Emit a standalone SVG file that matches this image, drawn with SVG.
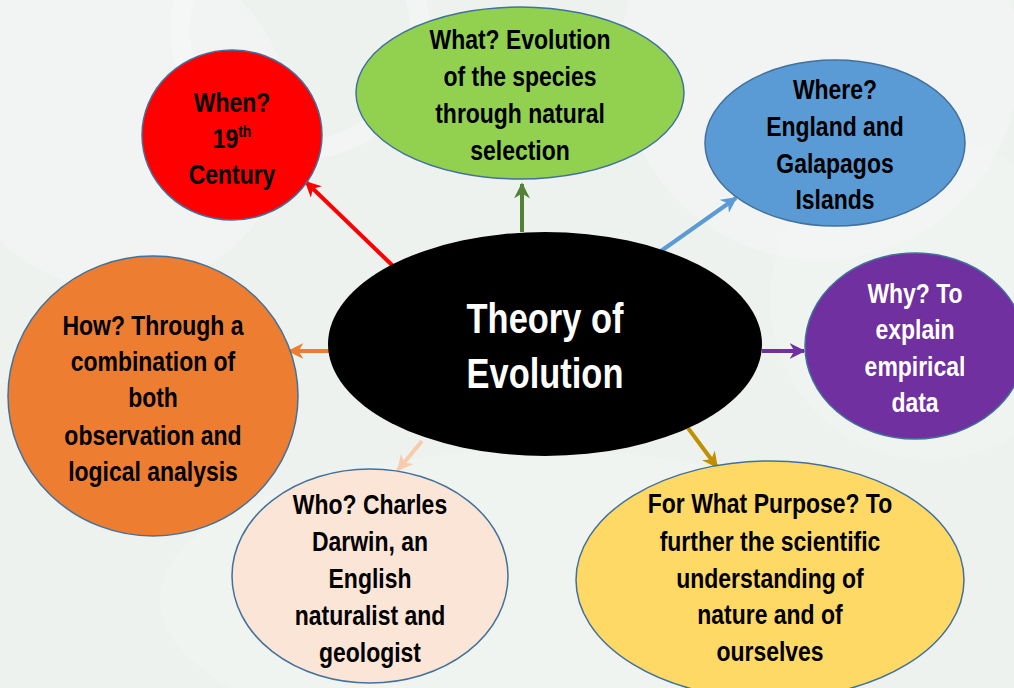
<svg xmlns="http://www.w3.org/2000/svg" width="1014" height="688" viewBox="0 0 1014 688">
<style>
.t{font-family:"Liberation Sans",Arial,sans-serif;font-weight:bold;font-size:28px;text-anchor:middle;fill:#000}
.w{fill:#fff}
.big{font-size:42px}
.n{stroke:#41719C;stroke-width:1.5}
.c{fill:none;stroke-width:4}
</style>
<defs>
<marker id="mr" viewBox="0 0 10 10" refX="9" refY="5" markerWidth="4" markerHeight="4" orient="auto" markerUnits="strokeWidth"><path d="M0,0 L10,5 L0,10 L3,5 z" fill="#FF0000"/></marker>
<marker id="mg" viewBox="0 0 10 10" refX="9" refY="5" markerWidth="4" markerHeight="4" orient="auto" markerUnits="strokeWidth"><path d="M0,0 L10,5 L0,10 L3,5 z" fill="#548235"/></marker>
<marker id="mb" viewBox="0 0 10 10" refX="9" refY="5" markerWidth="4" markerHeight="4" orient="auto" markerUnits="strokeWidth"><path d="M0,0 L10,5 L0,10 L3,5 z" fill="#5B9BD5"/></marker>
<marker id="mp" viewBox="0 0 10 10" refX="9" refY="5" markerWidth="4" markerHeight="4" orient="auto" markerUnits="strokeWidth"><path d="M0,0 L10,5 L0,10 L3,5 z" fill="#7030A0"/></marker>
<marker id="my" viewBox="0 0 10 10" refX="9" refY="5" markerWidth="4" markerHeight="4" orient="auto" markerUnits="strokeWidth"><path d="M0,0 L10,5 L0,10 L3,5 z" fill="#BF9000"/></marker>
<marker id="mk" viewBox="0 0 10 10" refX="9" refY="5" markerWidth="4" markerHeight="4" orient="auto" markerUnits="strokeWidth"><path d="M0,0 L10,5 L0,10 L3,5 z" fill="#F8CBAD"/></marker>
<marker id="mo" viewBox="0 0 10 10" refX="9" refY="5" markerWidth="4" markerHeight="4" orient="auto" markerUnits="strokeWidth"><path d="M0,0 L10,5 L0,10 L3,5 z" fill="#ED7D31"/></marker>
</defs>
<g id="background">
<rect width="1014" height="688" fill="#EEF2EF"/>
<circle cx="120" cy="120" r="170" fill="#fff" opacity="0.2"/>
<circle cx="820" cy="60" r="200" fill="#fff" opacity="0.2"/>
<circle cx="930" cy="300" r="160" fill="#fff" opacity="0.15"/>
<ellipse cx="540" cy="600" rx="380" ry="150" fill="#fff" opacity="0.15"/>
<circle cx="300" cy="30" r="120" fill="none" stroke="#fff" stroke-width="20" opacity="0.25"/>
</g>
<g id="connectors">
<line class="c" x1="393" y1="266" x2="306" y2="182" stroke="#FF0000" marker-end="url(#mr)"/>
<line class="c" x1="522" y1="232" x2="522" y2="184" stroke="#548235" marker-end="url(#mg)"/>
<line class="c" x1="661" y1="251" x2="736" y2="198" stroke="#5B9BD5" marker-end="url(#mb)"/>
<line class="c" x1="762" y1="351" x2="804" y2="351" stroke="#7030A0" marker-end="url(#mp)"/>
<line class="c" x1="688" y1="428" x2="717" y2="467" stroke="#BF9000" marker-end="url(#my)"/>
<line class="c" x1="422" y1="441" x2="398" y2="470" stroke="#F8CBAD" marker-end="url(#mk)"/>
<line class="c" x1="330" y1="351" x2="289" y2="351" stroke="#ED7D31" marker-end="url(#mo)"/>
</g>
<g id="center">
<ellipse cx="545" cy="344" rx="217" ry="112" fill="#000"/>
<g transform="translate(545 0) scale(0.82 1)">
<text class="t w big" x="0" y="333">Theory of</text>
<text class="t w big" x="0" y="388">Evolution</text>
</g>
</g>
<g id="when">
<ellipse class="n" cx="232" cy="135" rx="90" ry="85" fill="#FF0000"/>
<g transform="translate(232 0) scale(0.82 1)">
<text class="t" x="0" y="112">When?</text>
<text class="t" x="0" y="148">19<tspan font-size="17" dy="-11">th</tspan></text>
<text class="t" x="0" y="184">Century</text>
</g>
</g>
<g id="what">
<ellipse class="n" cx="520" cy="93" rx="164" ry="86" fill="#92D050"/>
<g transform="translate(520 0) scale(0.82 1)">
<text class="t" x="0" y="49">What? Evolution</text>
<text class="t" x="0" y="86">of the species</text>
<text class="t" x="0" y="123">through natural</text>
<text class="t" x="0" y="160">selection</text>
</g>
</g>
<g id="where">
<ellipse class="n" cx="835" cy="143" rx="130" ry="83" fill="#5B9BD5"/>
<g transform="translate(835 0) scale(0.82 1)">
<text class="t" x="0" y="99">Where?</text>
<text class="t" x="0" y="136">England and</text>
<text class="t" x="0" y="173">Galapagos</text>
<text class="t" x="0" y="209">Islands</text>
</g>
</g>
<g id="why">
<ellipse class="n" cx="915" cy="346" rx="110" ry="93" fill="#7030A0"/>
<g transform="translate(915 0) scale(0.82 1)">
<text class="t w" x="0" y="303">Why? To</text>
<text class="t w" x="0" y="339">explain</text>
<text class="t w" x="0" y="376">empirical</text>
<text class="t w" x="0" y="412">data</text>
</g>
</g>
<g id="how">
<ellipse class="n" cx="153" cy="396" rx="145" ry="140" fill="#ED7D31"/>
<g transform="translate(153 0) scale(0.82 1)">
<text class="t" x="0" y="335">How? Through a</text>
<text class="t" x="0" y="371">combination of</text>
<text class="t" x="0" y="407">both</text>
<text class="t" x="0" y="445">observation and</text>
<text class="t" x="0" y="481">logical analysis</text>
</g>
</g>
<g id="who">
<ellipse class="n" cx="370" cy="576" rx="138" ry="107" fill="#FBE5D6"/>
<g transform="translate(370 0) scale(0.82 1)">
<text class="t" x="0" y="514">Who? Charles</text>
<text class="t" x="0" y="551">Darwin, an</text>
<text class="t" x="0" y="588">English</text>
<text class="t" x="0" y="625">naturalist and</text>
<text class="t" x="0" y="662">geologist</text>
</g>
</g>
<g id="purpose">
<ellipse class="n" cx="770" cy="580" rx="194" ry="119" fill="#FFD966"/>
<g transform="translate(770 0) scale(0.82 1)">
<text class="t" x="0" y="513">For What Purpose? To</text>
<text class="t" x="0" y="551">further the scientific</text>
<text class="t" x="0" y="588">understanding of</text>
<text class="t" x="0" y="624">nature and of</text>
<text class="t" x="0" y="661">ourselves</text>
</g>
</g>
</svg>
